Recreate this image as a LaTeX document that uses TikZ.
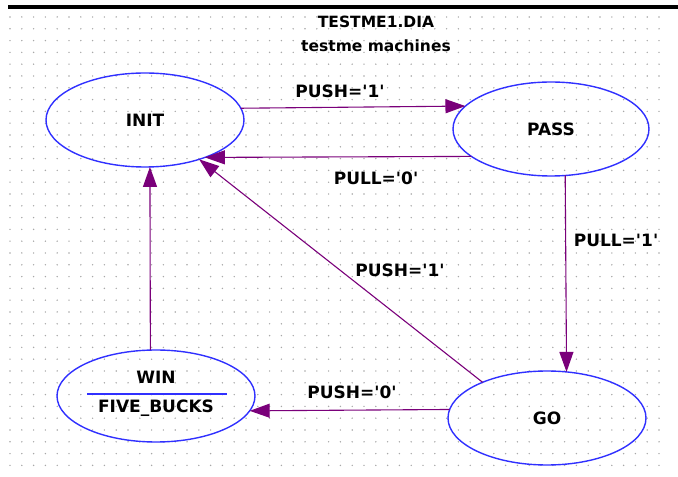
\documentclass[tikz,border=0pt]{standalone}
\usepackage{fontspec}
\setmainfont{DejaVu Sans}
\usetikzlibrary{shapes.geometric,arrows.meta}

\begin{document}
\begin{tikzpicture}[x=1pt, y=1pt,
    state/.style={ellipse, draw=stateColour, line width=1.4pt, minimum width=198pt,
        minimum height=94pt, inner sep=0pt, outer sep=0pt, font=\fontsize{17}{20}\selectfont\bfseries},
    trans/.style={draw=transColour, line width=1.1pt, -{Triangle[length=20pt,width=14pt]}},
    lbl/.style={font=\fontsize{17}{20}\selectfont\bfseries, inner sep=1pt},
    ttl/.style={font=\fontsize{15.5}{18}\selectfont\bfseries, inner sep=1pt}]
    \definecolor{stateColour}{HTML}{3030FF}
    \definecolor{transColour}{HTML}{7A007A}
    \definecolor{dotColour}{HTML}{A8A8A8}

    \def\dotStep{11.8}

    \useasboundingbox (0,0) rectangle (678,477);

    % Draw dot grid
    \foreach \i in {0,...,55}
        \foreach \j in {0,...,38}
            \fill[dotColour] (10+\i*\dotStep, 460-\j*\dotStep) circle (0.8pt);

    % Top bar
    \draw[line width=4pt] (8,470) -- (678,470);

    % Title
    \node[ttl] (title) at (376,455) {TESTME1.DIA};
    \node[ttl] (subtitle) at (376,431) {testme machines};

    % States
    \node[state] (INIT) at (145,357) {INIT};
    \node[state, minimum width=196pt] (PASS) at (551,348) {PASS};
    \node[state, minimum height=92pt] (WIN) at (156,81) {};
    \node[state] (GO) at (547,59) {GO};

    % Output of WIN
    \node[lbl] (winName) at (156,100) {WIN};
    \draw[draw=stateColour, line width=1.2pt] (87,83) -- (227,83);
    \node[lbl] (winOut) at (156,69) {FIVE\_BUCKS};

    % Transitions
    \draw[trans] (INIT.7.8) -- (PASS.165.7);
    \draw[trans] (PASS.199.6) -- (INIT.328.8);
    \draw[trans] (PASS.287.9) -- (GO.67.6);
    \draw[trans] (GO.151.8) -- (INIT.324);
    \draw[trans] (GO.175.3) -- (WIN.351.6);
    \draw[trans] (WIN.97.5) -- (INIT.276.1);

    % Transition labels
    \node[lbl] (pushOneTop) at (340,386) {PUSH=\textquotesingle1\textquotesingle};
    \node[lbl] (pullZero) at (376,299) {PULL=\textquotesingle0\textquotesingle};
    \node[lbl] (pullOne) at (616,237) {PULL=\textquotesingle1\textquotesingle};
    \node[lbl] (pushOneDiag) at (400,207) {PUSH=\textquotesingle1\textquotesingle};
    \node[lbl] (pushZero) at (352,85) {PUSH=\textquotesingle0\textquotesingle};

\end{tikzpicture}
\end{document}
